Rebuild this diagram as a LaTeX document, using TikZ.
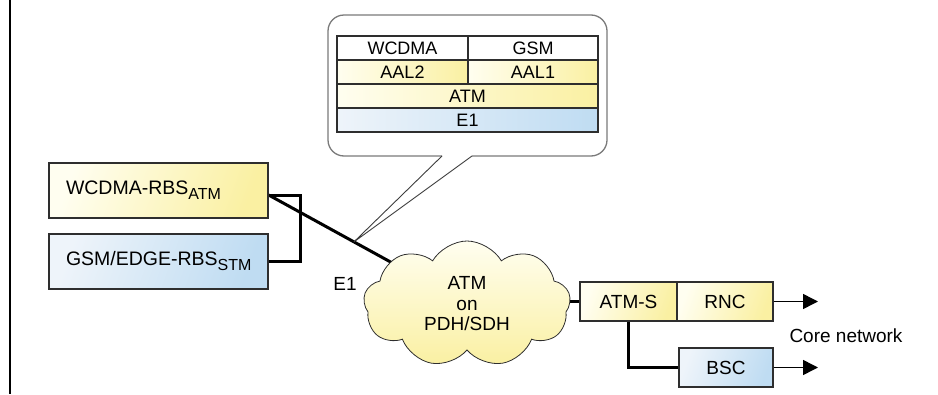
\documentclass[tikz,border=0pt]{standalone}
\usepackage{fontspec}
\setmainfont{Liberation Sans}
\usetikzlibrary{shapes.symbols,arrows.meta,backgrounds,calc}
\definecolor{yl}{HTML}{FFFEF0}
\definecolor{yd}{HTML}{FAF0A2}
\definecolor{bl}{HTML}{EEF4FA}
\definecolor{bd}{HTML}{BFDCF2}
\definecolor{edge}{HTML}{2E2E2E}
\definecolor{callgray}{HTML}{7A7A7A}
\newcommand\lowsub[1]{\raisebox{-5pt}{\fontsize{16}{18}\selectfont #1}}
\newcommand\leftbox[1]{\makebox[185pt][l]{#1}}
\begin{document}
\begin{tikzpicture}[x=1pt,y=-1pt,
  box/.style={draw=edge,line width=1.3pt,inner sep=0pt,font=\fontsize{19}{21}\selectfont},
  ybox/.style={box,left color=yl,right color=yd,shading angle=70},
  bbox/.style={box,left color=bl,right color=bd,shading angle=70},
  rbs/.style={minimum width=219pt,minimum height=55pt,inner xsep=17pt,font=\fontsize{19.5}{22}\selectfont},
  cell/.style={draw=edge,line width=1.2pt,minimum height=24pt,inner sep=0pt,font=\fontsize{18}{20}\selectfont},
  ycell/.style={cell,left color=yl,right color=yd},
  bcell/.style={cell,left color=bl,right color=bd},
  conn/.style={line width=3pt,line join=miter,black},
  outarrow/.style={line width=1.5pt,-{Triangle[length=15pt,width=15pt]}},
  lbl/.style={font=\fontsize{19}{21}\selectfont,inner sep=0pt}
]
\useasboundingbox (0,0) rectangle (938,394);

% left rule
\coordinate (lt) at (10,0);
\coordinate (lb) at (10,394);
\draw[line width=1.6pt] (lt) -- (lb);

% RBS boxes
\node[ybox,rbs] (wcdma) at (158.5,190.5) {\leftbox{WCDMA-RBS\lowsub{ATM}}};
\node[bbox,rbs] (gsm) at (158.5,261.5) {\leftbox{GSM/EDGE-RBS\lowsub{STM}}};

% cloud
\node[cloud,cloud puffs=9,cloud puff arc=120,aspect=1.6,draw=edge,line width=0.8pt,
      minimum width=207pt,minimum height=126pt,inner sep=0pt,
      top color=yl,bottom color=yd,align=center,
      font=\fontsize{19}{20.5}\selectfont] (cloud) at (467,304) {ATM\\on\\PDH/SDH};

% RNC side
\node[ybox,minimum width=97pt,minimum height=39pt] (atms) at (628.5,301.5) {ATM-S};
\node[ybox,minimum width=96pt,minimum height=39pt] (rnc) at (725,301.5) {RNC};
\node[bbox,minimum width=94pt,minimum height=39pt] (bsc) at (726,367.5) {BSC};

\coordinate (j1) at ($(wcdma.east)+(0,4.5)$);
\coordinate (tip) at ($(j1)!0.43!(cloud.center)$);

\begin{scope}[on background layer]
  \draw[conn] (j1) -- (cloud.center);
  \draw[conn] (atms.west) -- (atms.west -| cloud.center);
\end{scope}
\draw[conn] (j1) -- ++(32,0) |- (gsm.east);
\draw[conn] (atms.south) |- (bsc.west);

% output arrows
\coordinate (o1) at (818,301.5);
\coordinate (o2) at (818,367.5);
\draw[outarrow] (rnc.east) -- (o1);
\draw[outarrow] (bsc.east) -- (o2);

\node[lbl] (core) at (846,336) {Core network};
\node[lbl] (e1l) at (345,284) {E1};

% callout
\draw[callgray,line width=1.3pt,rounded corners=16pt]
  (442,156) -- (328,156) -- (328,15) -- (607,15) -- (607,156) -- (472,156);
\draw[edge!80!callgray,line width=0.9pt,line join=miter] (442,156) -- (tip) -- (472,156);

% table
\node[cell,fill=white,minimum width=131pt] (wc) at (402.5,48) {WCDMA};
\node[cell,fill=white,minimum width=130pt] (gc) at (533,48) {GSM};
\node[ycell,minimum width=131pt] (aal2) at (402.5,72) {AAL2};
\node[ycell,minimum width=130pt] (aal1) at (533,72) {AAL1};
\node[ycell,minimum width=261pt] (atmc) at (467.5,96) {ATM};
\node[bcell,minimum width=261pt] (e1c) at (467.5,120) {E1};
\end{tikzpicture}
\end{document}
